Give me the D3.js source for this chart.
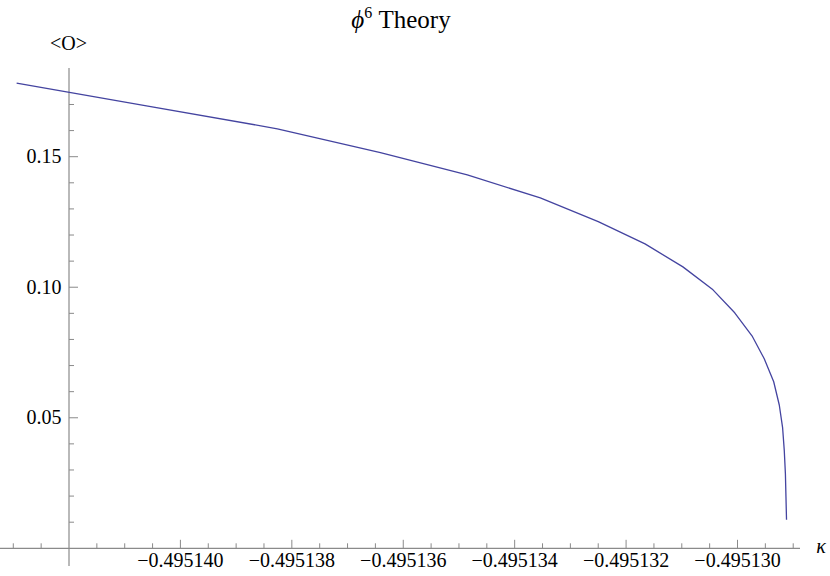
<!DOCTYPE html>
<html>
<head>
<meta charset="utf-8">
<script src="https://cdn.jsdelivr.net/npm/d3@7"></script>
</head>
<body style="margin:0">
<svg id="chart" width="830" height="576"></svg>
<script>
// ---- data ----
const kappa = [
  -0.49514294, -0.49514061, -0.49513826, -0.49513641, -0.49513485,
  -0.49513354, -0.49513250, -0.49513166, -0.49513098, -0.49513044,
  -0.49513005, -0.49512974, -0.49512952, -0.49512935, -0.49512925,
  -0.49512919, -0.49512916, -0.49512914, -0.49512913, -0.49512912
];
const orderParam = [
  0.1782, 0.1695, 0.1607, 0.1516, 0.1430,
  0.1342, 0.1251, 0.1166, 0.1078, 0.0990,
  0.0902, 0.0814, 0.0726, 0.0638, 0.0549,
  0.0461, 0.0373, 0.0285, 0.0197, 0.0109
];
const xMajorTicks = [-0.495140, -0.495138, -0.495136, -0.495134, -0.495132, -0.495130];
const xTickLabels = ["\u22120.495140", "\u22120.495138", "\u22120.495136", "\u22120.495134", "\u22120.495132", "\u22120.495130"];
const xMinorTicks = [-0.495143, -0.4951425, -0.4951415, -0.495141, -0.4951405,
  -0.4951395, -0.495139, -0.4951385, -0.4951375, -0.495137, -0.4951365,
  -0.4951355, -0.495135, -0.4951345, -0.4951335, -0.495133, -0.4951325,
  -0.4951315, -0.495131, -0.4951305, -0.4951295, -0.495129];
const yMajorTicks = [0.05, 0.10, 0.15];
const yTickLabels = ["0.05", "0.10", "0.15"];
const yMinorTicks = [0.01, 0.02, 0.03, 0.04, 0.06, 0.07, 0.08, 0.09, 0.11, 0.12, 0.13, 0.14, 0.16, 0.17];
const titleMain = "\u03D5";
const titleSup = "6";
const titleRest = " Theory";
const yAxisTitle = "<O>";
const xAxisTitle = "\u03BA";

// ---- scales ----
const x = d3.scaleLinear().domain([-0.495142, -0.495130]).range([69, 737.5]);
const y = d3.scaleLinear().domain([0, 0.15]).range([548.3, 156.7]);

const svg = d3.select("#chart");
const axisColor = "#8a8a8a";

function serifText(sel, size) {
  return sel.attr("font-family", "Times New Roman")
    .style("font-family", "'Times New Roman'", "important")
    .attr("font-size", size);
}

// x axis line
const x0 = y(0);
svg.append("line")
  .attr("x1", 0).attr("x2", 800)
  .attr("y1", x0).attr("y2", x0)
  .attr("stroke", axisColor).attr("stroke-width", 1.2);
// y axis line
const yAxX = x(-0.495142);
svg.append("line")
  .attr("x1", yAxX).attr("x2", yAxX)
  .attr("y1", 68).attr("y2", 566)
  .attr("stroke", axisColor).attr("stroke-width", 1.2);

// x ticks
svg.append("g").selectAll("line").data(xMinorTicks).join("line")
  .attr("x1", d => x(d)).attr("x2", d => x(d))
  .attr("y1", x0).attr("y2", x0 - 5)
  .attr("stroke", axisColor).attr("stroke-width", 1);
svg.append("g").selectAll("line").data(xMajorTicks).join("line")
  .attr("x1", d => x(d)).attr("x2", d => x(d))
  .attr("y1", x0).attr("y2", x0 - 8.5)
  .attr("stroke", axisColor).attr("stroke-width", 1);
serifText(svg.append("g").selectAll("text").data(xMajorTicks).join("text"), 20)
  .attr("x", d => x(d)).attr("y", 567)
  .attr("text-anchor", "middle")
  .text((d, i) => xTickLabels[i]);

// y ticks
svg.append("g").selectAll("line").data(yMinorTicks).join("line")
  .attr("x1", yAxX).attr("x2", yAxX + 5)
  .attr("y1", d => y(d)).attr("y2", d => y(d))
  .attr("stroke", axisColor).attr("stroke-width", 1);
svg.append("g").selectAll("line").data(yMajorTicks).join("line")
  .attr("x1", yAxX).attr("x2", yAxX + 9)
  .attr("y1", d => y(d)).attr("y2", d => y(d))
  .attr("stroke", axisColor).attr("stroke-width", 1);
serifText(svg.append("g").selectAll("text").data(yMajorTicks).join("text"), 20)
  .attr("x", yAxX - 7.5).attr("y", d => y(d) + 6.5)
  .attr("text-anchor", "end")
  .text((d, i) => yTickLabels[i]);

// axis titles
serifText(svg.append("text"), 20)
  .attr("x", 68.5).attr("y", 49.5)
  .attr("text-anchor", "middle")
  .text(yAxisTitle);
serifText(svg.append("text"), 20)
  .attr("x", 821).attr("y", 553)
  .attr("text-anchor", "middle")
  .attr("font-style", "italic")
  .text(xAxisTitle);

// title
const t = serifText(svg.append("text"), 25)
  .attr("x", 401).attr("y", 28)
  .attr("text-anchor", "middle");
t.append("tspan").attr("font-style", "italic").text(titleMain);
t.append("tspan").attr("font-size", 16).attr("dy", -10).text(titleSup);
t.append("tspan").attr("dy", 10).text(titleRest);

// curve
const pts = kappa.map((k, i) => [k, orderParam[i]]);
svg.append("path")
  .datum(pts)
  .attr("fill", "none")
  .attr("stroke", "#4444a0")
  .attr("stroke-width", 1.3)
  .attr("stroke-linejoin", "round")
  .attr("d", d3.line().x(d => x(d[0])).y(d => y(d[1])));
</script>
</body>
</html>
